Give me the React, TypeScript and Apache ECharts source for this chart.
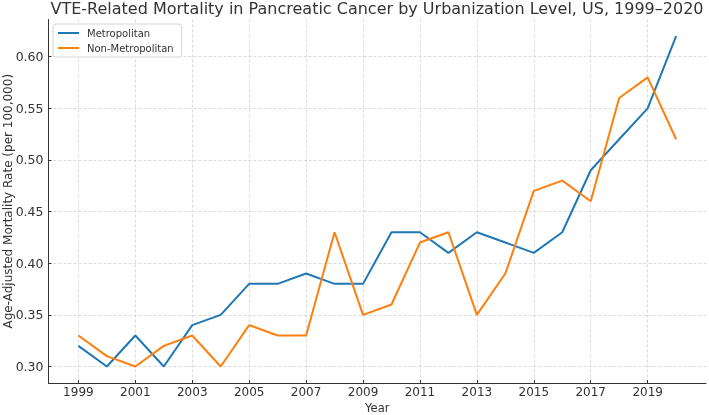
import React, { useEffect, useRef } from "react";
import * as echarts from "echarts";

const years = [1999, 2000, 2001, 2002, 2003, 2004, 2005, 2006, 2007, 2008, 2009, 2010, 2011, 2012, 2013, 2014, 2015, 2016, 2017, 2018, 2019, 2020];
const metro = [0.32, 0.30, 0.33, 0.30, 0.34, 0.35, 0.38, 0.38, 0.39, 0.38, 0.38, 0.43, 0.43, 0.41, 0.43, 0.42, 0.41, 0.43, 0.49, 0.52, 0.55, 0.62];
const nonMetro = [0.33, 0.31, 0.30, 0.32, 0.33, 0.30, 0.34, 0.33, 0.33, 0.43, 0.35, 0.36, 0.42, 0.43, 0.35, 0.39, 0.47, 0.48, 0.46, 0.56, 0.58, 0.52];
const xTicks = [1999, 2001, 2003, 2005, 2007, 2009, 2011, 2013, 2015, 2017, 2019];
const yTicks = [0.30, 0.35, 0.40, 0.45, 0.50, 0.55, 0.60];

const FONT = "DejaVu Sans";

export default function App() {
  const ref = useRef<HTMLDivElement>(null);
  useEffect(() => {
    if (!ref.current) return;
    const chart = echarts.init(ref.current, undefined, { renderer: "svg" });
    const grid = { color: "#d0d0d0", type: [3, 2], width: 0.8 };
    chart.setOption({
      animation: false,
      textStyle: { fontFamily: FONT },
      title: {
        text: "VTE-Related Mortality in Pancreatic Cancer by Urbanization Level, US, 1999–2020",
        left: 377,
        textAlign: "center",
        top: 0,
        padding: 0,
        textStyle: { fontFamily: FONT, fontSize: 16, fontWeight: "normal", color: "#333" },
      },
      legend: {
        orient: "vertical",
        left: 53,
        top: 24,
        padding: [4, 8, 4, 5],
        itemGap: 5,
        itemWidth: 21,
        itemHeight: 2,
        icon: "rect",
        borderColor: "#d5d5d5",
        borderWidth: 1,
        borderRadius: 3,
        backgroundColor: "#fff",
        textStyle: { fontFamily: FONT, fontSize: 10, color: "#333", padding: [0, 0, 0, 3] },
        data: ["Metropolitan", "Non-Metropolitan"],
      },
      grid: { left: 48.5, right: 3, top: 19.5, bottom: 32, containLabel: false, outerBoundsMode: "none" },
      xAxis: {
        type: "value",
        min: 1997.95,
        max: 2021.05,
        name: "Year",
        nameLocation: "middle",
        nameGap: 19,
        nameMoveOverlap: false,
        nameTextStyle: { fontFamily: FONT, fontSize: 11.5, color: "#333" },
        axisLine: { show: true, lineStyle: { color: "#333", width: 1 } },
        axisTick: { show: true, inside: true, length: 3, customValues: xTicks, lineStyle: { color: "#333" } },
        axisLabel: { customValues: xTicks, formatter: (v: number) => String(v), fontFamily: FONT, fontSize: 12, color: "#333", margin: 3 },
        splitLine: { show: true, lineStyle: grid },
      },
      yAxis: {
        type: "value",
        min: 0.284,
        max: 0.636,
        name: "Age-Adjusted Mortality Rate (per 100,000)",
        nameLocation: "middle",
        nameGap: 35,
        nameMoveOverlap: false,
        nameTextStyle: { fontFamily: FONT, fontSize: 12, color: "#333" },
        axisLine: { show: true, lineStyle: { color: "#333", width: 1 } },
        axisTick: { show: true, inside: true, length: 3, customValues: yTicks, lineStyle: { color: "#333" } },
        axisLabel: { customValues: yTicks, formatter: (v: number) => v.toFixed(2), fontFamily: FONT, fontSize: 12.5, color: "#333", margin: 5 },
        splitLine: { show: true, lineStyle: grid },
      },
      series: [
        {
          name: "Metropolitan",
          type: "line",
          data: years.map((y, i) => [y, metro[i]]),
          showSymbol: false,
          symbol: "none",
          lineStyle: { color: "#1f77b4", width: 2 },
          itemStyle: { color: "#1f77b4" },
        },
        {
          name: "Non-Metropolitan",
          type: "line",
          data: years.map((y, i) => [y, nonMetro[i]]),
          showSymbol: false,
          symbol: "none",
          lineStyle: { color: "#ff7f0e", width: 2 },
          itemStyle: { color: "#ff7f0e" },
        },
      ],
    });
    return () => chart.dispose();
  }, []);
  return <div ref={ref} style={{ position: "fixed", left: 0, top: 0, width: 709, height: 415 }} />;
}
